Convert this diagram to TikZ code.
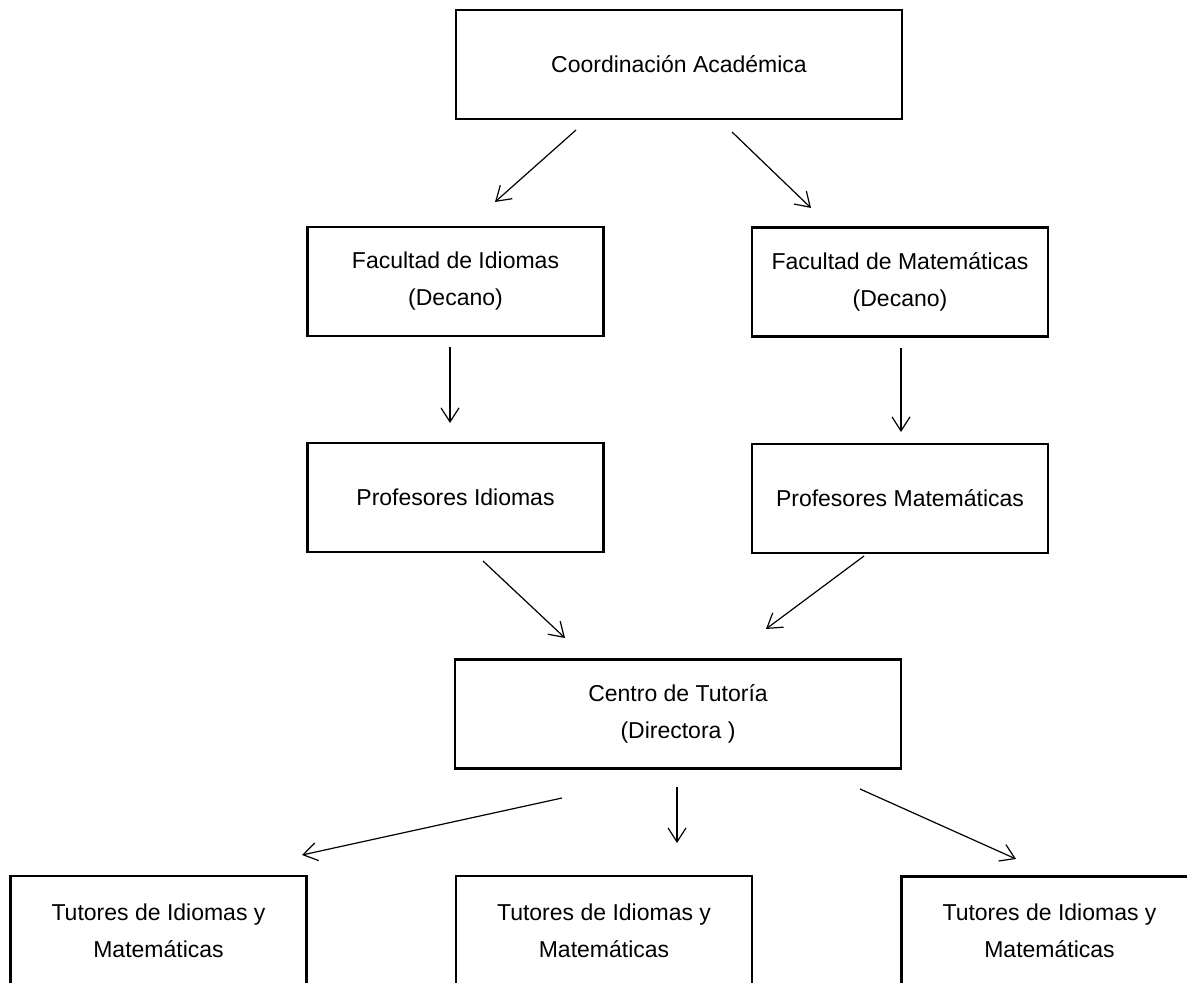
\documentclass[tikz,border=0pt]{standalone}
\usepackage{fontspec}
\setmainfont{Liberation Sans}
\usepackage{tikz}
\usetikzlibrary{arrows.meta}
\tikzset{
    box/.style={draw, rectangle, line width=1.1pt, inner sep=0pt, align=center,
        minimum width=148pt, minimum height=54.5pt,
        font=\fontsize{11.5pt}{18.5pt}\selectfont},
    wide/.style={minimum width=223pt},
    arr/.style={-{Straight Barb[length=7pt,width=9pt]}, line width=0.6pt}}

\begin{document}
\begin{tikzpicture}[x=0.5pt,y=-0.5pt]
\useasboundingbox (0,0) rectangle (1187,983);
\clip (0,0) rectangle (1187,983);

\node (CA) [box, wide] at (679,64.5) {Coordinación Académica};
\node (FI) [box] at (455.5,281.5) {Facultad de Idiomas\\(Decano)};
\node (FM) [box] at (900,282) {Facultad de Matemáticas\\(Decano)};
\node (PI) [box] at (455.5,497.5) {Profesores Idiomas};
\node (PM) [box] at (900,498.5) {Profesores Matemáticas};
\node (CT) [box, wide] at (678,714) {Centro de Tutoría\\(Directora )};
\node (T1) [box] at (158.5,930.5) {Tutores de Idiomas y\\Matemáticas};
\node (T2) [box] at (604,930.5) {Tutores de Idiomas y\\Matemáticas};
\node (T3) [box] at (1049.5,931) {Tutores de Idiomas y\\Matemáticas};

\coordinate (A1) at (576,130);
\coordinate (B1) at (495,202);
\coordinate (A2) at (732,132);
\coordinate (B2) at (811,208);
\coordinate (A3) at (450,347);
\coordinate (B3) at (450,423);
\coordinate (A4) at (901,348);
\coordinate (B4) at (901,432);
\coordinate (A5) at (483,561);
\coordinate (B5) at (565,638);
\coordinate (A6) at (864,556);
\coordinate (B6) at (766,629);
\coordinate (A7) at (562,798);
\coordinate (B7) at (302,855);
\coordinate (A8) at (677,787);
\coordinate (B8) at (677,843);
\coordinate (A9) at (860,789);
\coordinate (B9) at (1016,859);

\draw [arr] (A1) -- (B1);
\draw [arr] (A2) -- (B2);
\draw [arr] (A3) -- (B3);
\draw [arr] (A4) -- (B4);
\draw [arr] (A5) -- (B5);
\draw [arr] (A6) -- (B6);
\draw [arr] (A7) -- (B7);
\draw [arr] (A8) -- (B8);
\draw [arr] (A9) -- (B9);
\end{tikzpicture}
\end{document}
